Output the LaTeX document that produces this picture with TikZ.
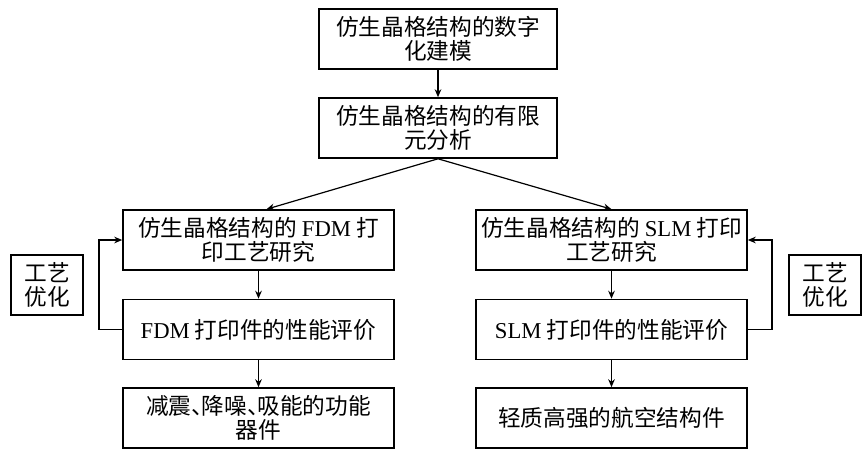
\documentclass[tikz,border=0pt]{standalone}
\usepackage{fontspec}
\setmainfont{Liberation Serif}
\newfontfamily\cjk{Noto Sans CJK SC}
\usetikzlibrary{arrows.meta}
\newcommand{\lat}[1]{{\rmfamily #1}}
\newcommand{\dun}{\makebox[0.45em][l]{、}}
\begin{document}
\begin{tikzpicture}[x=0.75pt, y=-0.75pt,
	every node/.style={font=\cjk\fontsize{17}{18}\selectfont, align=center, inner sep=0pt},
	mainbox/.style={draw, line width=1.2pt, minimum width=178.5pt, minimum height=45pt},
	colbox/.style={draw, line width=1.2pt, minimum width=203.25pt, minimum height=45pt},
	optbox/.style={draw, line width=1.2pt, minimum width=54pt, minimum height=45pt},
	arr/.style={-{Stealth[length=6pt, width=5pt]}, line width=0.9pt}]
	\useasboundingbox (0,0) rectangle (867,453);
	
	\node[mainbox] (model) at (438,39) {仿生晶格结构的数字\\化建模};
	\node[mainbox] (fea) at (438,128) {仿生晶格结构的有限\\元分析};
	
	\node[colbox] (fdmA) at (258.5,240) {仿生晶格结构的 \lat{FDM} 打\\印工艺研究};
	\node[colbox] (fdmB) at (258.5,329.5) {\lat{FDM} 打印件的性能评价};
	\node[colbox] (fdmC) at (258.5,418) {减震\dun 降噪\dun 吸能的功能\\器件};
	
	\node[colbox] (slmA) at (611.5,240) {仿生晶格结构的 \lat{SLM} 打印\\工艺研究};
	\node[colbox] (slmB) at (611.5,329.5) {\lat{SLM} 打印件的性能评价};
	\node[colbox] (slmC) at (611.5,418) {轻质高强的航空结构件};
	
	\node[optbox] (optL) at (47,285) {工艺\\优化};
	\node[optbox] (optR) at (825,285) {工艺\\优化};
	
	\coordinate (fbL) at (99,240);
	\coordinate (fbR) at (772,240);
	
	\draw[arr] (model) -- (fea);
	\draw[arr] (fea.south) -- ([xshift=6pt]fdmA.north);
	\draw[arr] (fea.south) -- (slmA.north);
	\foreach \col in {fdm, slm}
	{
		\draw[arr] (\col A) -- (\col B);
		\draw[arr] (\col B) -- (\col C);
	}
	\draw[arr] (fdmB.west) -| (fbL) -- (fdmA.west);
	\draw[arr] (slmB.east) -| (fbR) -- (slmA.east);
\end{tikzpicture}
\end{document}
